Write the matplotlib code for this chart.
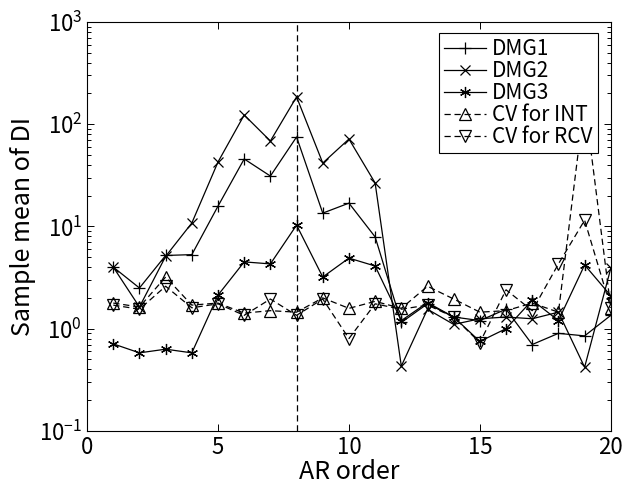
import matplotlib
matplotlib.use("Agg")
import matplotlib.pyplot as plt
import numpy as np
from matplotlib.ticker import LogLocator, NullFormatter

plt.rcParams["font.family"] = ["Noto Sans CJK JP", "DejaVu Sans"]
plt.rcParams["mathtext.fontset"] = "custom"
plt.rcParams["mathtext.rm"] = "Noto Sans CJK JP"

ar_order = np.arange(1, 21)

dmg1 = [4.0, 2.5, 5.2, 5.3, 15.8, 45.7, 31.1, 75.0, 13.5, 16.9,
        7.9, 1.15, 1.75, 1.3, 1.2, 1.55, 0.7, 0.9, 0.85, 1.35]
dmg2 = [4.0, 1.63, 5.1, 10.8, 42.7, 123.0, 68.5, 185.0, 41.7, 71.6,
        26.6, 0.43, 1.55, 1.1, 1.25, 1.3, 1.25, 1.45, 0.42, 3.9]
dmg3 = [0.71, 0.58, 0.63, 0.58, 2.13, 4.5, 4.3, 10.3, 3.2, 4.9,
        4.1, 1.2, 1.8, 1.3, 0.75, 1.0, 1.9, 1.2, 4.2, 2.1]
cv_int = [1.78, 1.63, 3.2, 1.7, 1.78, 1.42, 1.5, 1.45, 2.0, 1.58,
          1.85, 1.58, 2.6, 1.95, 1.45, 1.5, 1.78, 1.45, 170.0, 1.6]
cv_rcv = [1.7, 1.55, 2.6, 1.6, 1.75, 1.35, 1.95, 1.35, 1.95, 0.8,
          1.75, 1.55, 1.7, 1.3, 0.73, 2.4, 1.5, 4.3, 11.5, 1.6]

selected_order = 8

fig = plt.figure(figsize=(6.22, 4.88), dpi=100)
ax = fig.add_axes([0.140, 0.117, 0.842, 0.838])

lw = 0.9
ax.semilogy(ar_order, dmg1, "-", marker="+", markersize=9, label="DMG1",
            color="black", linewidth=lw, markeredgewidth=lw)
ax.semilogy(ar_order, dmg2, "-", marker="x", markersize=7, label="DMG2",
            color="black", linewidth=lw, markeredgewidth=lw)
ax.semilogy(ar_order, dmg3, "-", marker=(6, 2, 0), markersize=8,
            label="DMG3", color="black", linewidth=lw, markeredgewidth=lw)
ax.semilogy(ar_order, cv_int, "--", marker="^", markersize=9,
            markerfacecolor="none", label="CV for INT", dashes=(5, 3),
            color="black", linewidth=lw, markeredgewidth=lw)
ax.semilogy(ar_order, cv_rcv, "--", marker="v", markersize=9,
            markerfacecolor="none", label="CV for RCV", dashes=(5, 3),
            color="black", linewidth=lw, markeredgewidth=lw)
ax.axvline(selected_order, color="black", linestyle="--", linewidth=lw,
           dashes=(5, 3))

ax.set_xlim(0, 20)
ax.set_ylim(1e-1, 1e3)
ax.set_xticks([0, 5, 10, 15, 20])
ax.yaxis.set_major_locator(LogLocator(base=10, numticks=10))
ax.yaxis.set_minor_locator(LogLocator(base=10, subs=np.arange(2, 10), numticks=20))
ax.yaxis.set_minor_formatter(NullFormatter())
ax.tick_params(which="both", direction="in", top=True, right=True,
               labelsize=16, width=0.7)
ax.tick_params(which="major", length=5)
ax.tick_params(which="minor", length=3)
for sp in ax.spines.values():
    sp.set_linewidth(0.8)

ax.set_xlabel("AR order", fontsize=18, labelpad=0)
ax.set_ylabel("Sample mean of DI", fontsize=18, labelpad=2)

leg = ax.legend(loc="upper right", bbox_to_anchor=(0.975, 0.973),
                fontsize=15, fancybox=False, framealpha=1, edgecolor="black",
                handlelength=2.0, handletextpad=0.3, labelspacing=0.0,
                borderpad=0.25, borderaxespad=0)
leg.get_frame().set_linewidth(0.8)

fig.savefig("out.png", dpi=100)
